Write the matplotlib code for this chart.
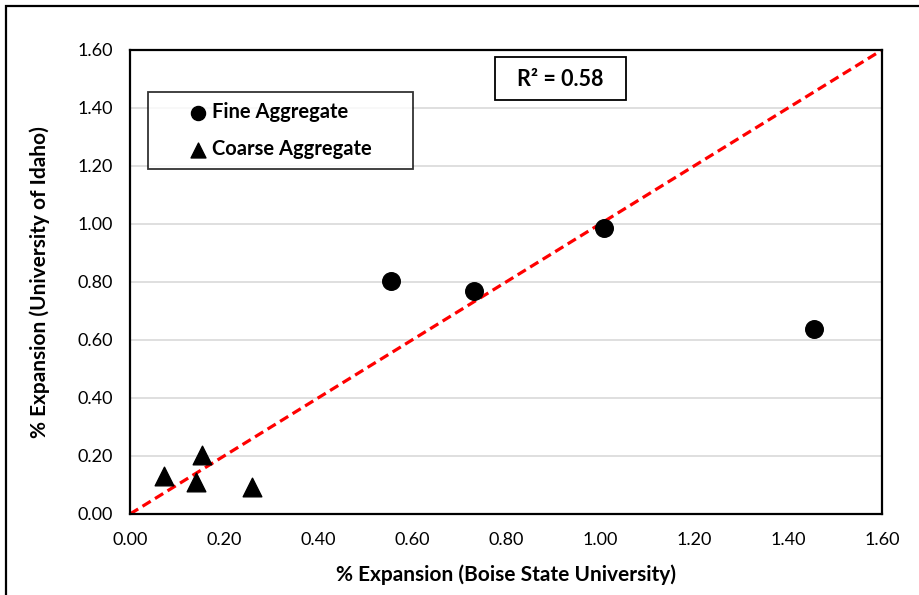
import matplotlib.pyplot as plt
from matplotlib.patches import Rectangle

# Expansion results, Boise State (x) vs University of Idaho (y)
fine_bsu = [0.555, 0.732, 1.008, 1.455]
fine_ui = [0.805, 0.770, 0.985, 0.638]
coarse_bsu = [0.072, 0.140, 0.153, 0.260]
coarse_ui = [0.130, 0.110, 0.203, 0.093]
line_of_equality = [0.0, 1.6]
r_squared = 0.58
ticks = [0.0, 0.2, 0.4, 0.6, 0.8, 1.0, 1.2, 1.4, 1.6]

plt.rcParams['font.family'] = ['Lato', 'DejaVu Sans']

fig = plt.figure(figsize=(9.2, 5.95), dpi=100)
W, H = 920, 595

# outer chart frame (runs off the right and bottom edges)
fig.patches.append(Rectangle((6 / W, -0.05), 1.0, 1 - 6 / H + 0.05,
                             transform=fig.transFigure, fill=False,
                             edgecolor='black', linewidth=1.6))

ax = fig.add_axes([130 / W, (H - 514) / H, (882 - 130) / W, (514 - 50) / H])

ax.plot(line_of_equality, line_of_equality, color='#ff0000', linestyle=(0, (3, 1.6)),
        linewidth=2.3, zorder=2)
ax.scatter(fine_bsu, fine_ui, s=160, marker='o', color='black', zorder=3,
           label='Fine Aggregate')
ax.scatter(coarse_bsu, coarse_ui, s=180, marker='^', color='black', zorder=3,
           label='Coarse Aggregate')

ax.set_xlim(0, 1.6)
ax.set_ylim(0, 1.6)
ax.set_xticks(ticks)
ax.set_yticks(ticks)
ax.set_xticklabels(['%.2f' % t for t in ticks], fontsize=13)
ax.set_yticklabels(['%.2f' % t for t in ticks], fontsize=13)
ax.tick_params(axis='y', length=0, pad=12)
ax.tick_params(axis='x', length=0, pad=13)
ax.grid(True, axis='y', color='#d9d9d9', linewidth=1.2, zorder=0)
ax.set_axisbelow(True)
for s in ax.spines.values():
    s.set_linewidth(1.6)
    s.set_color('black')

ax.set_xlabel('% Expansion (Boise State University)', fontsize=15,
              fontweight='bold', labelpad=12)
ax.set_ylabel('% Expansion (University of Idaho)', fontsize=15,
              fontweight='bold', labelpad=20)

# legend box spans x 148..413, y 92..168 (pixels)
lx0, lx1, ly0, ly1 = 148, 413, 92, 168
leg = ax.legend(loc='upper left',
                bbox_to_anchor=((lx0 - 130) / 752, (514 - ly1) / 464,
                                (lx1 - lx0) / 752, (ly1 - ly0) / 464),
                mode='expand', frameon=True, fancybox=False, edgecolor='black',
                prop={'weight': 'bold', 'size': 14.5}, handlelength=4.0,
                handletextpad=-1.3, labelspacing=0.85, borderpad=0.5,
                borderaxespad=0, markerscale=0.8)
leg.get_frame().set_linewidth(1.3)

# R-squared box
ax.add_patch(Rectangle(((495 - 130) / 752, (514 - 100) / 464), 131 / 752, 43 / 464,
                       transform=ax.transAxes, fill=True, facecolor='white',
                       edgecolor='black', linewidth=1.3, zorder=4))
ax.text((560 - 130) / 752, (514 - 79) / 464, 'R\u00b2 = %.2f' % r_squared,
        transform=ax.transAxes, ha='center', va='center', fontsize=15.5,
        fontweight='bold', zorder=5)

fig.savefig('out.png', dpi=100)
